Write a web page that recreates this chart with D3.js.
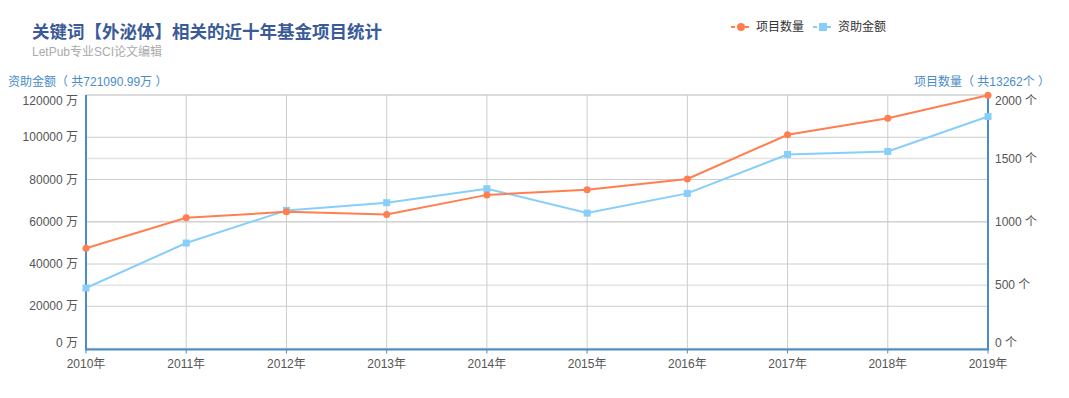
<!DOCTYPE html>
<html>
<head>
<meta charset="utf-8">
<script src="https://cdn.jsdelivr.net/npm/d3@7"></script>
<style>
  body { margin: 0; background: #fff; font-family: "Liberation Sans", "Noto Sans CJK SC", sans-serif; }
</style>
</head>
<body>
<div id="chart"></div>
<script>
const years = ["2010年","2011年","2012年","2013年","2014年","2015年","2016年","2017年","2018年","2019年"];
const counts = [791, 1032, 1078, 1058, 1212, 1252, 1338, 1686, 1817, 1998];
const funds = [28630.12, 49920.35, 65380.40, 69020.18, 75640.27, 64100.56, 73420.83, 91860.44, 93270.15, 109847.69];
const leftTicks = [0, 20000, 40000, 60000, 80000, 100000, 120000];
const rightTicks = [0, 500, 1000, 1500, 2000];
const seriesNames = ["项目数量", "资助金额"];

const width = 1069, height = 398;
const gLeft = 86, gRight = 988, gTop = 95, gBottom = 348.5;
const orange = "#ff7f50", blue = "#87cefa", axisBlue = "#4a8cc8";

const svg = d3.select("#chart").append("svg").attr("width", width).attr("height", height);

const x = d3.scalePoint().domain(years).range([gLeft, gRight]);
const yL = d3.scaleLinear().domain([0, 120000]).range([gBottom, gTop]);
const yR = d3.scaleLinear().domain([0, 2000]).range([gBottom, gTop]);

// grid
const grid = svg.append("g");
grid.selectAll(".gr").data(rightTicks).enter().append("line")
  .attr("x1", gLeft).attr("x2", gRight)
  .attr("y1", d => yR(d)).attr("y2", d => yR(d))
  .attr("stroke", "#e3e3e3").attr("stroke-width", 1.5);
grid.selectAll(".gl").data(leftTicks).enter().append("line")
  .attr("x1", gLeft).attr("x2", gRight)
  .attr("y1", d => yL(d)).attr("y2", d => yL(d))
  .attr("stroke", "#ccc").attr("stroke-width", 1);
grid.selectAll(".gx").data(years).enter().append("line")
  .attr("x1", d => x(d)).attr("x2", d => x(d))
  .attr("y1", gTop).attr("y2", gBottom)
  .attr("stroke", "#ccc").attr("stroke-width", 1);

// axes lines
svg.append("line").attr("x1", gLeft).attr("x2", gLeft).attr("y1", gTop).attr("y2", gBottom + 1)
  .attr("stroke", axisBlue).attr("stroke-width", 2);
svg.append("line").attr("x1", gRight).attr("x2", gRight).attr("y1", gTop).attr("y2", gBottom + 1)
  .attr("stroke", axisBlue).attr("stroke-width", 2);
svg.append("line").attr("x1", gLeft - 1).attr("x2", gRight + 1).attr("y1", gBottom + 1).attr("y2", gBottom + 1)
  .attr("stroke", axisBlue).attr("stroke-width", 2);
svg.selectAll(".xt").data(years).enter().append("line")
  .attr("x1", d => x(d)).attr("x2", d => x(d))
  .attr("y1", gBottom + 1).attr("y2", gBottom + 5)
  .attr("stroke", axisBlue).attr("stroke-width", 1);

// tick labels
const labelStyle = sel => sel.attr("font-size", 12).attr("fill", "#555");
// keep first/last label inside the grid like the original
function clampY(py) { return Math.min(Math.max(py, gTop + 6), gBottom - 6); }

svg.selectAll(".ly").data(leftTicks).enter().append("text")
  .attr("x", 78).attr("y", d => clampY(yL(d))).attr("dy", "0.35em")
  .attr("text-anchor", "end").text(d => d + " 万").call(labelStyle);
svg.selectAll(".ry").data(rightTicks).enter().append("text")
  .attr("x", 995).attr("y", d => clampY(yR(d))).attr("dy", "0.35em")
  .text(d => d + " 个").call(labelStyle);
svg.selectAll(".xl").data(years).enter().append("text")
  .attr("x", d => x(d)).attr("y", 364).attr("dy", "0.35em")
  .attr("text-anchor", "middle").text(d => d).call(labelStyle);

// axis names
const totalFund = d3.sum(funds).toFixed(2);
const totalCount = d3.sum(counts);
svg.append("text").attr("x", 8).attr("y", 86).attr("font-size", 12).attr("fill", axisBlue)
  .text("资助金额（ 共" + totalFund + "万 ）");
svg.append("text").attr("x", 1050).attr("y", 86).attr("font-size", 12).attr("fill", axisBlue)
  .attr("text-anchor", "end").text("项目数量（ 共" + totalCount + "个 ）");

// lines
const lineL = d3.line().x((d, i) => x(years[i])).y(d => yL(d));
const lineR = d3.line().x((d, i) => x(years[i])).y(d => yR(d));

svg.append("path").datum(funds).attr("d", lineL)
  .attr("fill", "none").attr("stroke", blue).attr("stroke-width", 2);
svg.append("path").datum(counts).attr("d", lineR)
  .attr("fill", "none").attr("stroke", orange).attr("stroke-width", 2);

svg.selectAll(".sq").data(funds).enter().append("rect")
  .attr("x", (d, i) => x(years[i]) - 3.5).attr("y", d => yL(d) - 3.5)
  .attr("width", 7).attr("height", 7).attr("fill", blue);
svg.selectAll(".ci").data(counts).enter().append("circle")
  .attr("cx", (d, i) => x(years[i])).attr("cy", d => yR(d)).attr("r", 3.5)
  .attr("fill", orange);

// title
svg.append("text").attr("x", 32).attr("y", 38).attr("font-size", 17.5).attr("font-weight", "bold")
  .attr("font-family", "Noto Sans CJK SC")
  .attr("fill", "#3a5a98").text("关键词【外泌体】相关的近十年基金项目统计");
svg.append("text").attr("x", 32).attr("y", 56).attr("font-size", 12).attr("fill", "#aaa")
  .text("LetPub专业SCI论文编辑");

// legend
const legend = svg.append("g");
const lg = [{ name: seriesNames[0], color: orange, x: 731, shape: "circle" },
            { name: seriesNames[1], color: blue, x: 813, shape: "rect" }];
lg.forEach(l => {
  legend.append("line").attr("x1", l.x).attr("x2", l.x + 20).attr("y1", 27).attr("y2", 27)
    .attr("stroke", l.color).attr("stroke-width", 2).attr("stroke-dasharray", "4,3");
  if (l.shape === "circle") {
    legend.append("circle").attr("cx", l.x + 10).attr("cy", 27).attr("r", 4).attr("fill", l.color);
  } else {
    legend.append("rect").attr("x", l.x + 6).attr("y", 23).attr("width", 8).attr("height", 8).attr("fill", l.color);
  }
  legend.append("text").attr("x", l.x + 25).attr("y", 27).attr("dy", "0.35em")
    .attr("font-size", 12).attr("fill", "#333").text(l.name);
});
</script>
</body>
</html>
